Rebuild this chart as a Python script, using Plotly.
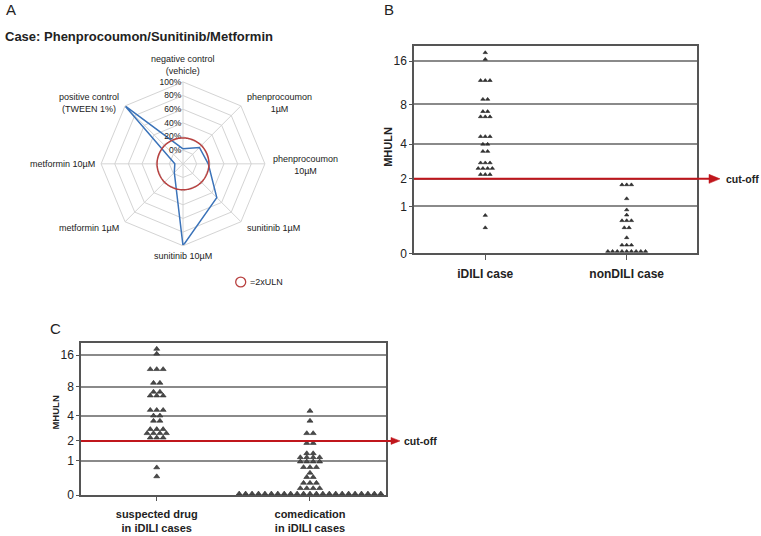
import numpy as np
import plotly.graph_objects as go
from collections import Counter

W, H = 761, 536
FONT = "Liberation Sans, Arial, sans-serif"

# ---------------- Panel A data ----------------
radar_categories = [
    "negative control<br>(vehicle)",
    "phenprocoumon<br>1µM",
    "phenprocoumon<br>10µM",
    "sunitinib 1µM",
    "sunitinib 10µM",
    "metformin 1µM",
    "metformin 10µM",
    "positive control<br>(TWEEN 1%)",
]
radar_values = [2, 14, 17, 50, 100, -2, -8, 100]
uln2_level = 18
radial_ticks = [0, 20, 40, 60, 80, 100]

# ---------------- Panel B / C data ----------------
idili_values = [18.3, 16.5,
                11.8, 11.8, 11.8,
                8.7, 8.7,
                7.1, 7.1,
                6.5, 6.5, 6.5,
                4.6, 4.6, 4.6,
                4.0, 4.0,
                3.5, 3.5,
                2.8, 2.8, 2.8,
                2.5, 2.5, 2.5, 2.5,
                2.2, 2.2, 2.2,
                0.75, 0.46]
nondili_values = [1.75, 1.75, 1.75,
                  1.24, 0.9, 0.76,
                  0.62, 0.62, 0.62,
                  0.46, 0.46,
                  0.26,
                  0.13, 0.13, 0.13] + [0.03] * 9
suspected_values = idili_values
comedication_values = [4.5, 3.5,
                       2.5, 2.5,
                       1.87, 1.87,
                       1.33, 1.33,
                       1.15, 1.15, 1.15, 1.15,
                       0.97, 0.97, 0.97, 0.97,
                       0.76, 0.76, 0.76,
                       0.57,
                       0.44, 0.44,
                       0.28, 0.28, 0.28,
                       0.15, 0.15, 0.15, 0.15] + [0.03] * 23
mhuln_ticks = [0, 1, 2, 4, 8, 16]
cutoff = 2
b_categories = ["iDILI case", "nonDILI case"]
c_categories = ["suspected drug<br>in iDILI cases", "comedication<br>in iDILI cases"]


def tr(v):
    return np.log2(np.asarray(v, dtype=float) + 1)


def swarm(values, center, step):
    cnt = Counter(values)
    seen = {}
    xs = []
    for v in values:
        n = cnt[v]
        i = seen.get(v, 0)
        seen[v] = i + 1
        xs.append(center + (i - (n - 1) / 2) * step)
    return xs


def px(x):
    return x / W


def py(y):
    return 1 - y / H


fig = go.Figure()

# ---------------- Panel A: radar ----------------
fig.add_trace(go.Scatterpolar(
    r=radar_values + [radar_values[0]],
    theta=radar_categories + [radar_categories[0]],
    mode="lines", line=dict(color="#3b73b9", width=1.5),
    subplot="polar", showlegend=False, hoverinfo="skip"))

theta_c = np.linspace(0, 360, 181)
fig.add_trace(go.Scatterpolar(
    r=[uln2_level] * len(theta_c), theta=theta_c,
    mode="lines", line=dict(color="#b8403f", width=1.5),
    subplot="polar2", showlegend=False, hoverinfo="skip"))

cx, cy, R = 183, 166, 83
pdom = dict(x=[px(cx - R), px(cx + R)], y=[py(cy + R), py(cy - R)])
fig.update_layout(
    polar=dict(
        domain=pdom, gridshape="linear", bgcolor="white",
        angularaxis=dict(direction="clockwise", rotation=90, type="category",
                         categoryorder="array", categoryarray=radar_categories,
                         showline=True, linecolor="#d4d4d4", linewidth=1,
                         gridcolor="#d4d4d4", gridwidth=1, ticks="",
                         showticklabels=False),
        radialaxis=dict(range=[-20, 100], tickvals=radial_ticks,
                        ticktext=["%d%%" % t for t in radial_ticks],
                        angle=90, tickangle=90, side="counterclockwise",
                        showline=False, ticks="", gridcolor="#d4d4d4", gridwidth=1,
                        tickfont=dict(size=8.5, color="#222", family=FONT)),
    ),
    polar2=dict(
        domain=pdom, bgcolor="rgba(0,0,0,0)",
        angularaxis=dict(visible=False, type="linear"),
        radialaxis=dict(visible=False, range=[-20, 100]),
    ),
)

annotations = []
# angular category labels (centered multi-line text, placed just outside each vertex)
label_place = [  # (xanchor, yanchor, dx, dy)
    ("center", "bottom", 0, -4),
    ("left", "middle", 3, -3),
    ("left", "middle", 5, 1),
    ("left", "top", 3, -1),
    ("center", "top", 0, 3),
    ("right", "top", -3, -1),
    ("right", "middle", -3, 0),
    ("right", "middle", -3, -3),
]
for i, (lab, (xa, ya, dx, dy)) in enumerate(zip(radar_categories, label_place)):
    ang = np.deg2rad(45 * i)
    vx = cx + R * np.sin(ang) + dx
    vy = cy - R * np.cos(ang) + dy
    annotations.append(dict(x=px(vx), y=py(vy), xref="paper", yref="paper",
                            xanchor=xa, yanchor=ya, align="center", text=lab,
                            showarrow=False, font=dict(size=9, color="#222", family=FONT)))

# ---------------- Panel B ----------------
step_b = 0.0333
mk_b = dict(symbol="triangle-up", size=3.8, color="#333", line=dict(color="#222", width=0.6))
fig.add_trace(go.Scatter(
    x=swarm(idili_values, 0, step_b), y=tr(idili_values), mode="markers", marker=mk_b,
    xaxis="x", yaxis="y", showlegend=False, hoverinfo="skip", cliponaxis=False))
fig.add_trace(go.Scatter(
    x=swarm(nondili_values, 1, step_b), y=tr(nondili_values), mode="markers", marker=mk_b,
    xaxis="x", yaxis="y", showlegend=False, hoverinfo="skip", cliponaxis=False))

# ---------------- Panel C ----------------
step_c = 0.042
mk_c = dict(symbol="triangle-up", size=5.2, color="#4a4a4a", line=dict(color="#2a2a2a", width=0.6))
fig.add_trace(go.Scatter(
    x=swarm(suspected_values, 0, step_c), y=tr(suspected_values), mode="markers", marker=mk_c,
    xaxis="x2", yaxis="y2", showlegend=False, hoverinfo="skip", cliponaxis=False))
fig.add_trace(go.Scatter(
    x=swarm(comedication_values, 1, step_c), y=tr(comedication_values), mode="markers", marker=mk_c,
    xaxis="x2", yaxis="y2", showlegend=False, hoverinfo="skip", cliponaxis=False))

axis_common = dict(showline=True, mirror=True, linecolor="#555", linewidth=1.5,
                   zeroline=False, ticks="outside", tickcolor="#555",
                   tickfont=dict(size=12, color="#222", family=FONT))

fig.update_layout(
    xaxis=dict(domain=[px(414), px(696.7)], range=[-0.504, 1.495],
               tickvals=[0, 1], ticktext=["<b>%s</b>" % c for c in b_categories],
               ticklen=5, ticklabelstandoff=4, showgrid=False, anchor="y", **axis_common),
    yaxis=dict(domain=[py(256.7), py(46.7)], range=[0, 4.41],
               tickvals=tr(mhuln_ticks), ticktext=[str(t) for t in mhuln_ticks],
               ticklen=3, showgrid=True, gridcolor="#8a8a8a", gridwidth=1.5,
               anchor="x", **axis_common),
    xaxis2=dict(domain=[px(81), px(385.7)], range=[-0.494, 1.494],
                tickvals=[0, 1], ticktext=["<b>%s</b>" % c for c in c_categories],
                ticklen=4, ticklabelstandoff=4, showgrid=False, anchor="y2",
                **{**axis_common, "tickfont": dict(size=11, color="#222", family=FONT)}),
    yaxis2=dict(domain=[py(501.7), py(347.7)], range=[0, 4.44],
                tickvals=tr(mhuln_ticks), ticktext=[str(t) for t in mhuln_ticks],
                ticklen=3, showgrid=True, gridcolor="#8a8a8a", gridwidth=1.5,
                anchor="x2", **axis_common),
)

shapes = []
red = "#c0161c"
# cut-off arrows
for yref, x0, tip, alen, ahh, tx, fs in [("y", 414, 720, 11, 4.5, 724, 10.5),
                                         ("y2", 81, 400, 9, 3.5, 402, 10.5)]:
    ycut = float(tr(cutoff))
    shapes.append(dict(type="line", xref="paper", yref=yref, x0=px(x0), x1=px(tip - alen + 1),
                       y0=ycut, y1=ycut, line=dict(color=red, width=2)))
    shapes.append(dict(type="path", xref="paper", yref=yref, xsizemode="pixel", ysizemode="pixel",
                       xanchor=px(tip), yanchor=ycut,
                       path=f"M0,0 L{-alen},{ahh} L{-alen},{-ahh} Z",
                       fillcolor=red, line=dict(color=red, width=0.5)))
    annotations.append(dict(x=px(tx), y=ycut, xref="paper", yref=yref, xanchor="left",
                            yanchor="middle", text="<b>cut-off</b>", showarrow=False,
                            font=dict(size=fs, color="#222", family=FONT)))

# legend for the red circle
shapes.append(dict(type="circle", xref="paper", yref="paper",
                   x0=px(235.7), x1=px(245.7), y0=py(290.7), y1=py(280.7),
                   line=dict(color="#b8403f", width=1.3)))
annotations.append(dict(x=px(248), y=py(286), xref="paper", yref="paper", xanchor="left",
                        yanchor="middle", text="=2xULN", showarrow=False,
                        font=dict(size=9, color="#222", family=FONT)))

# panel letters and title
for letter, x, y in [("A", 4, 10), ("B", 382, 10), ("C", 48, 333)]:
    annotations.append(dict(x=px(x), y=py(y), xref="paper", yref="paper", xanchor="left",
                            yanchor="middle", text=letter, showarrow=False,
                            font=dict(size=15, color="#222", family=FONT)))
annotations.append(dict(x=px(3), y=py(37), xref="paper", yref="paper", xanchor="left",
                        yanchor="middle", text="<b>Case: Phenprocoumon/Sunitinib/Metformin</b>",
                        showarrow=False, font=dict(size=13, color="#222", family=FONT)))
# y titles
for x, y, s in [(387.3, 148.5, 11), (56, 418, 9.5)]:
    annotations.append(dict(x=px(x), y=py(y), xref="paper", yref="paper", xanchor="center",
                            yanchor="middle", text="<b>MHULN</b>", textangle=-90,
                            showarrow=False, font=dict(size=s, color="#222", family=FONT)))

fig.update_layout(
    width=W, height=H, margin=dict(l=0, r=0, t=0, b=0),
    paper_bgcolor="white", plot_bgcolor="white", showlegend=False,
    font=dict(family=FONT, color="#222"),
    shapes=shapes, annotations=annotations,
)

fig.write_html("out.html", config={"displayModeBar": False},
               post_script="document.body.style.margin='0';document.body.style.overflow='hidden';")
